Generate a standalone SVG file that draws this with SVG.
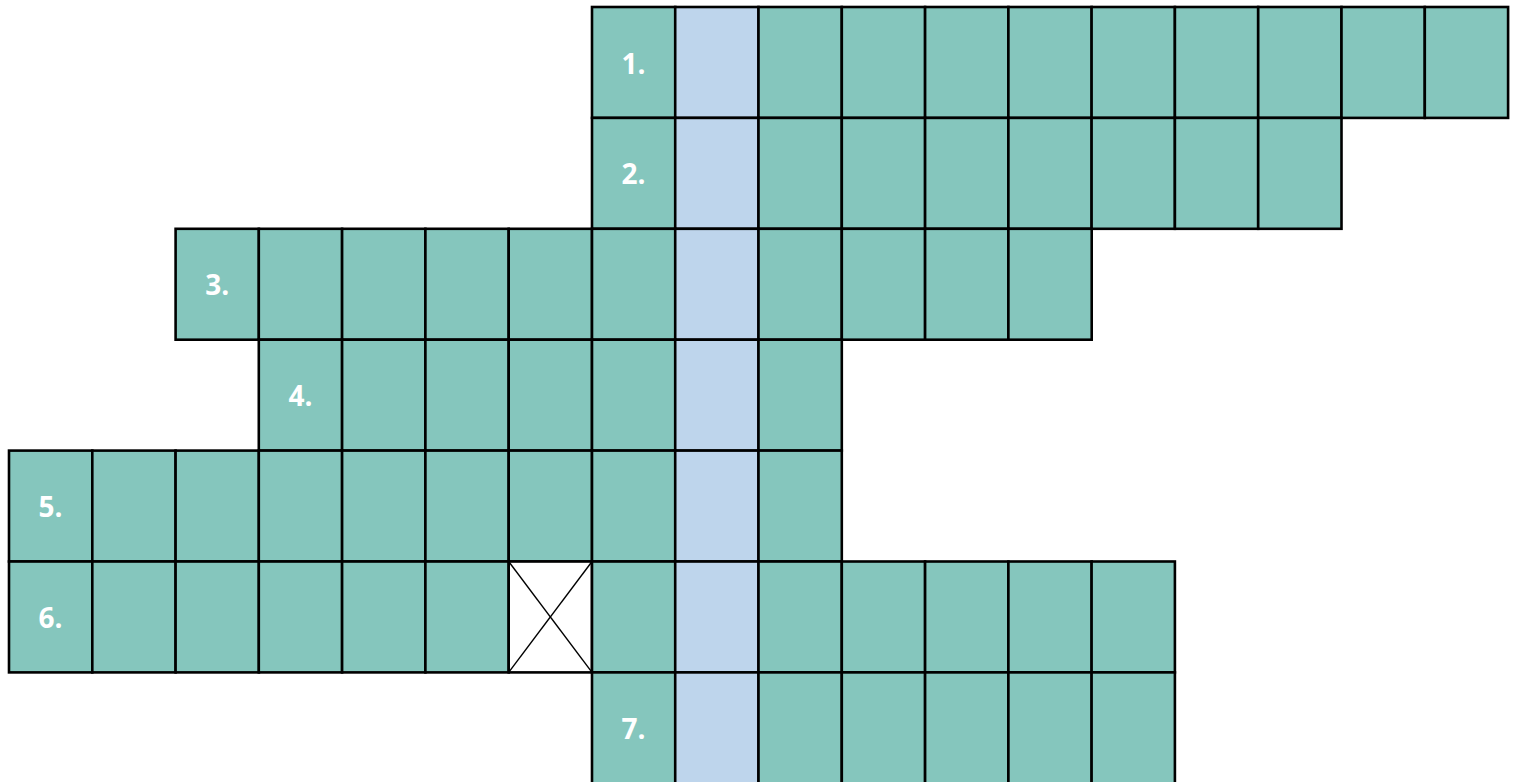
<svg xmlns="http://www.w3.org/2000/svg" width="1516" height="782" viewBox="0 0 1516 782">
<style>
.c{fill:#85C6BD;stroke:#000;stroke-width:2.6}
.b{fill:#BED5EC;stroke:#000;stroke-width:2.6}
.w{fill:#FFFFFF;stroke:#000;stroke-width:2.6}
.x{stroke:#000;stroke-width:1.4;fill:none}
.t{font-family:"Open Sans","DejaVu Sans",sans-serif;font-weight:bold;font-size:28px;fill:#FFFFFF;text-anchor:middle}
</style>
<rect width="1516" height="782" fill="#FFFFFF"/>
<g id="row1">
<rect class="c" x="592" y="7" width="83.3" height="110.9"/>
<rect class="b" x="675.2" y="7" width="83.3" height="110.9"/>
<rect class="c" x="758.5" y="7" width="83.3" height="110.9"/>
<rect class="c" x="841.8" y="7" width="83.3" height="110.9"/>
<rect class="c" x="925.1" y="7" width="83.3" height="110.9"/>
<rect class="c" x="1008.4" y="7" width="83.3" height="110.9"/>
<rect class="c" x="1091.6" y="7" width="83.3" height="110.9"/>
<rect class="c" x="1174.9" y="7" width="83.3" height="110.9"/>
<rect class="c" x="1258.2" y="7" width="83.3" height="110.9"/>
<rect class="c" x="1341.5" y="7" width="83.3" height="110.9"/>
<rect class="c" x="1424.8" y="7" width="83.3" height="110.9"/>
<text class="t" x="633.6" y="73.5">1.</text>
</g>
<g id="row2">
<rect class="c" x="592" y="117.9" width="83.3" height="110.9"/>
<rect class="b" x="675.2" y="117.9" width="83.3" height="110.9"/>
<rect class="c" x="758.5" y="117.9" width="83.3" height="110.9"/>
<rect class="c" x="841.8" y="117.9" width="83.3" height="110.9"/>
<rect class="c" x="925.1" y="117.9" width="83.3" height="110.9"/>
<rect class="c" x="1008.4" y="117.9" width="83.3" height="110.9"/>
<rect class="c" x="1091.6" y="117.9" width="83.3" height="110.9"/>
<rect class="c" x="1174.9" y="117.9" width="83.3" height="110.9"/>
<rect class="c" x="1258.2" y="117.9" width="83.3" height="110.9"/>
<text class="t" x="633.6" y="184.4">2.</text>
</g>
<g id="row3">
<rect class="c" x="175.6" y="228.8" width="83.3" height="110.9"/>
<rect class="c" x="258.8" y="228.8" width="83.3" height="110.9"/>
<rect class="c" x="342.1" y="228.8" width="83.3" height="110.9"/>
<rect class="c" x="425.4" y="228.8" width="83.3" height="110.9"/>
<rect class="c" x="508.7" y="228.8" width="83.3" height="110.9"/>
<rect class="c" x="592" y="228.8" width="83.3" height="110.9"/>
<rect class="b" x="675.2" y="228.8" width="83.3" height="110.9"/>
<rect class="c" x="758.5" y="228.8" width="83.3" height="110.9"/>
<rect class="c" x="841.8" y="228.8" width="83.3" height="110.9"/>
<rect class="c" x="925.1" y="228.8" width="83.3" height="110.9"/>
<rect class="c" x="1008.4" y="228.8" width="83.3" height="110.9"/>
<text class="t" x="217.2" y="295.3">3.</text>
</g>
<g id="row4">
<rect class="c" x="258.8" y="339.7" width="83.3" height="110.9"/>
<rect class="c" x="342.1" y="339.7" width="83.3" height="110.9"/>
<rect class="c" x="425.4" y="339.7" width="83.3" height="110.9"/>
<rect class="c" x="508.7" y="339.7" width="83.3" height="110.9"/>
<rect class="c" x="592" y="339.7" width="83.3" height="110.9"/>
<rect class="b" x="675.2" y="339.7" width="83.3" height="110.9"/>
<rect class="c" x="758.5" y="339.7" width="83.3" height="110.9"/>
<text class="t" x="300.5" y="406.2">4.</text>
</g>
<g id="row5">
<rect class="c" x="9" y="450.6" width="83.3" height="110.9"/>
<rect class="c" x="92.3" y="450.6" width="83.3" height="110.9"/>
<rect class="c" x="175.6" y="450.6" width="83.3" height="110.9"/>
<rect class="c" x="258.8" y="450.6" width="83.3" height="110.9"/>
<rect class="c" x="342.1" y="450.6" width="83.3" height="110.9"/>
<rect class="c" x="425.4" y="450.6" width="83.3" height="110.9"/>
<rect class="c" x="508.7" y="450.6" width="83.3" height="110.9"/>
<rect class="c" x="592" y="450.6" width="83.3" height="110.9"/>
<rect class="b" x="675.2" y="450.6" width="83.3" height="110.9"/>
<rect class="c" x="758.5" y="450.6" width="83.3" height="110.9"/>
<text class="t" x="50.6" y="517.1">5.</text>
</g>
<g id="row6">
<rect class="c" x="9" y="561.5" width="83.3" height="110.9"/>
<rect class="c" x="92.3" y="561.5" width="83.3" height="110.9"/>
<rect class="c" x="175.6" y="561.5" width="83.3" height="110.9"/>
<rect class="c" x="258.8" y="561.5" width="83.3" height="110.9"/>
<rect class="c" x="342.1" y="561.5" width="83.3" height="110.9"/>
<rect class="c" x="425.4" y="561.5" width="83.3" height="110.9"/>
<rect class="w" x="508.7" y="561.5" width="83.3" height="110.9"/>
<line class="x" x1="508.7" y1="561.5" x2="592" y2="672.4"/>
<line class="x" x1="592" y1="561.5" x2="508.7" y2="672.4"/>
<rect class="c" x="592" y="561.5" width="83.3" height="110.9"/>
<rect class="b" x="675.2" y="561.5" width="83.3" height="110.9"/>
<rect class="c" x="758.5" y="561.5" width="83.3" height="110.9"/>
<rect class="c" x="841.8" y="561.5" width="83.3" height="110.9"/>
<rect class="c" x="925.1" y="561.5" width="83.3" height="110.9"/>
<rect class="c" x="1008.4" y="561.5" width="83.3" height="110.9"/>
<rect class="c" x="1091.6" y="561.5" width="83.3" height="110.9"/>
<text class="t" x="50.6" y="628.2">6.</text>
</g>
<g id="row7">
<rect class="c" x="592" y="672.4" width="83.3" height="112"/>
<rect class="b" x="675.2" y="672.4" width="83.3" height="112"/>
<rect class="c" x="758.5" y="672.4" width="83.3" height="112"/>
<rect class="c" x="841.8" y="672.4" width="83.3" height="112"/>
<rect class="c" x="925.1" y="672.4" width="83.3" height="112"/>
<rect class="c" x="1008.4" y="672.4" width="83.3" height="112"/>
<rect class="c" x="1091.6" y="672.4" width="83.3" height="112"/>
<text class="t" x="633.6" y="739.1">7.</text>
</g>
<g id="connectors"/>
</svg>
